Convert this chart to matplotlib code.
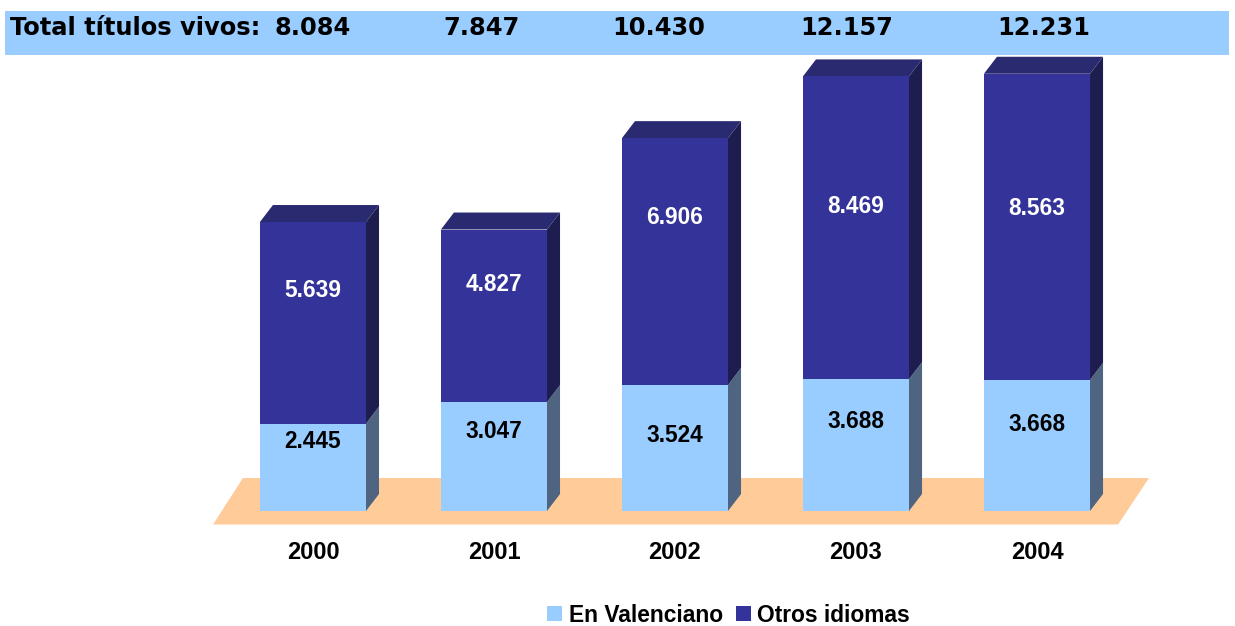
import matplotlib
matplotlib.use("Agg")
import matplotlib.pyplot as plt
from matplotlib.patches import Polygon, Rectangle
import numpy as np

# ---------------- data ----------------
years = ["2000", "2001", "2002", "2003", "2004"]
valenciano = [2445, 3047, 3524, 3688, 3668]
otros = [5639, 4827, 6906, 8469, 8563]
totales = [8084, 7847, 10430, 12157, 12231]
series_names = ["En Valenciano", "Otros idiomas"]
banner_title = "Total títulos vivos:"

# label placement as fraction of each segment height
val_frac = [0.80, 0.73, 0.60, 0.68, 0.66]
otros_frac = [0.66, 0.68, 0.68, 0.57, 0.56]

# ---------------- style ----------------
C_LIGHT = "#99CCFF"
C_DARK = "#333399"
C_LIGHT_SIDE = "#4E6480"
C_DARK_SIDE = "#1D1D50"
C_DARK_TOP = "#2A2A70"
C_FLOOR = "#FFCC99"
ARIAL = "Liberation Sans"
VERDANA = "DejaVu Sans"

W, H = 1235, 626
fig = plt.figure(figsize=(W / 100, H / 100), dpi=100)
ax = fig.add_axes([0, 0, 1, 1])
ax.set_xlim(-1.729, 5.094)
ax.set_ylim(-3217, 14294)
ax.axis("off")

x = np.arange(len(years))
bw = 0.586
dx = 0.072
dy = 475

# floor
floor = Polygon([(-0.552, -378), (4.448, -378), (4.619, 923), (-0.387, 923)],
                closed=True, facecolor=C_FLOOR, edgecolor="none", zorder=1)
ax.add_patch(floor)

b1 = ax.bar(x, valenciano, width=bw, color=C_LIGHT, zorder=3, label=series_names[0])
b2 = ax.bar(x, otros, width=bw, bottom=valenciano, color=C_DARK, zorder=3, label=series_names[1])

for i in range(len(years)):
    xl = x[i] - bw / 2
    xr = x[i] + bw / 2
    v = valenciano[i]
    t = valenciano[i] + otros[i]
    ax.add_patch(Polygon([(xr, 0), (xr + dx, dy), (xr + dx, v + dy), (xr, v)],
                         closed=True, facecolor=C_LIGHT_SIDE, edgecolor="none", zorder=2))
    ax.add_patch(Polygon([(xr, v), (xr + dx, v + dy), (xr + dx, t + dy), (xr, t)],
                         closed=True, facecolor=C_DARK_SIDE, edgecolor="none", zorder=2))
    ax.add_patch(Polygon([(xl, t), (xr, t), (xr + dx, t + dy), (xl + dx, t + dy)],
                         closed=True, facecolor=C_DARK_TOP, edgecolor="none", zorder=2))
    # value labels
    ax.text(x[i], v * val_frac[i], f"{v:,}".replace(",", "."), ha="center", va="center",
            fontsize=16.3, fontweight="bold", family=ARIAL, color="black", zorder=5)
    ax.text(x[i], v + otros[i] * otros_frac[i], f"{otros[i]:,}".replace(",", "."),
            ha="center", va="center", fontsize=16.3, fontweight="bold", family=ARIAL,
            color="white", zorder=5)
    # year labels
    ax.text(x[i], -1170, years[i], ha="center", va="center", fontsize=17,
            fontweight="bold", family=ARIAL, color="black")

# banner
fig.patches.append(Rectangle((5 / W, 1 - 55 / H), 1224 / W, 44 / H,
                             transform=fig.transFigure, facecolor=C_LIGHT,
                             edgecolor="none", zorder=0))
ty = 1 - 28 / H
fig.text(10 / W, ty, banner_title, ha="left", va="center", fontsize=17.4,
         fontweight="bold", family=VERDANA, color="black")
total_starts = [275, 443, 612, 800, 997]
for xs, tv in zip(total_starts, totales):
    fig.text(xs / W, ty, f"{tv:,}".replace(",", "."), ha="left", va="center",
             fontsize=17.4, fontweight="bold", family=VERDANA, color="black")

# legend
leg = fig.legend(handles=[b1, b2], labels=series_names, loc="center",
                 bbox_to_anchor=(728.5 / W, 1 - 615 / H), ncol=2, frameon=False,
                 prop={"family": ARIAL, "weight": "bold", "size": 16.4},
                 handlelength=0.67, handleheight=0.67, handletextpad=0.28,
                 columnspacing=0.56, borderpad=0, borderaxespad=0)

fig.savefig("out.png", dpi=100, facecolor="white")
